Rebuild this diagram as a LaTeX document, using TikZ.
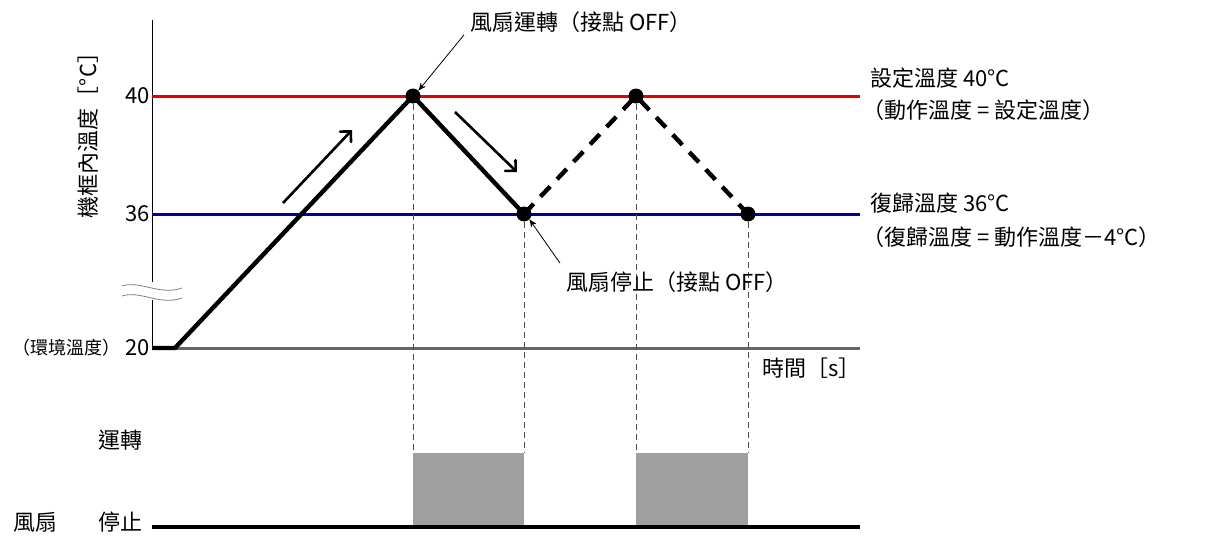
\documentclass[tikz,border=0pt]{standalone}
\usepackage{fontspec}
\setmainfont{Noto Sans CJK TC}
\usetikzlibrary{arrows,positioning,calc}
\tikzset{
    level/.style={
        line width=1.5pt,
    },
    curve/.style={
        line width=2.2pt,
    },
    guide/.style={
        densely dashed,
        thin,
        gray!60!black,
    },
    dot/.style={
        circle,
        fill=black,
        inner sep=0pt,
        minimum size=7.5pt,
    },
    run/.style={
        fill=gray!75,
        draw=none,
    },
    lbl/.style={
        font=\fontsize{11}{13}\selectfont,
        inner sep=1pt,
    },
    pointer/.style={
        -stealth',
        thin,
    },
    move/.style={
        -angle 90,
        line width=1.3pt,
    }
}

\begin{document}
\begin{tikzpicture}[x=0.5pt,y=-0.5pt]
\useasboundingbox (0,0) rectangle (1210,546);

% axis
\draw[thin] (152,20) -- (152,282);
\draw[thin] (152,300) -- (152,348);
\draw[thin,gray] (122,286) .. controls (140,280) and (160,296) .. (182,288);
\draw[thin,gray] (122,296) .. controls (140,290) and (160,306) .. (182,298);

% levels
\draw[level,red!90!black] (152,96) -- (860,96);
\draw[level,blue!60!black] (152,214) -- (860,214);
\draw[level,gray!80!black] (152,348) -- (860,348);

% running blocks
\fill[run] (413,453) rectangle (524,527);
\fill[run] (636,453) rectangle (748,527);
\draw[line width=2pt] (152,527) -- (860,527);

% points
\node[dot] (p1) at (413,96) {};
\node[dot] (p2) at (524,214) {};
\node[dot] (p3) at (636,96) {};
\node[dot] (p4) at (748,214) {};
\coordinate (s0) at (152,348);
\coordinate (s1) at (175,348);

\foreach \p/\x in {p1/413,p2/524,p3/636,p4/748}
  \draw[guide] (\p) -- (\x,453);

\draw[curve] (s0) -- (s1) -- (p1.center) -- (p2.center);
\draw[curve,dash pattern=on 7pt off 5pt] (p2.center) -- (p3.center) -- (p4.center);

% direction
\draw[move] (283,203) -- (352,130);
\draw[move] (455,112) -- (517,172);

% axis labels
\node[lbl,anchor=east] (t40) at (152,96) {40};
\node[lbl,anchor=east] (t36) at (152,214) {36};
\node[lbl,anchor=east] (t20) at (152,348) {20};
\node[lbl,anchor=east,font=\fontsize{9}{11}\selectfont] (env) at (t20.west) {（環境溫度）};
\node[lbl,rotate=90] (ylab) at (88,130) {機框內溫度［°C］};
\node[lbl,anchor=west] (xlab) at (760,368) {時間［s］};

% right notes
\node[lbl,anchor=west] (set) at (868,78) {設定溫度 40°C};
\node[lbl,anchor=west] (setn) at (860,110) {（動作溫度 = 設定溫度）};
\node[lbl,anchor=west] (ret) at (868,203) {復歸溫度 36°C};
\node[lbl,anchor=west] (retn) at (860,237) {（復歸溫度 = 動作溫度－4°C）};

% fan
\node[lbl] (on) at (120,440) {運轉};
\node[lbl] (off) at (120,522) {停止};
\node[lbl] (fan) at (35,522) {風扇};

% callouts
\node[lbl,anchor=west] (c1) at (468,22) {風扇運轉（接點 OFF）};
\node[lbl,anchor=west] (c2) at (564,282) {風扇停止（接點 OFF）};
\draw[pointer] (c1.south west) ++(-4,0) -- (p1.north east);
\draw[pointer] (c2.north west) ++(-4,-6) -- (p2.south east);

\end{tikzpicture}
\end{document}
